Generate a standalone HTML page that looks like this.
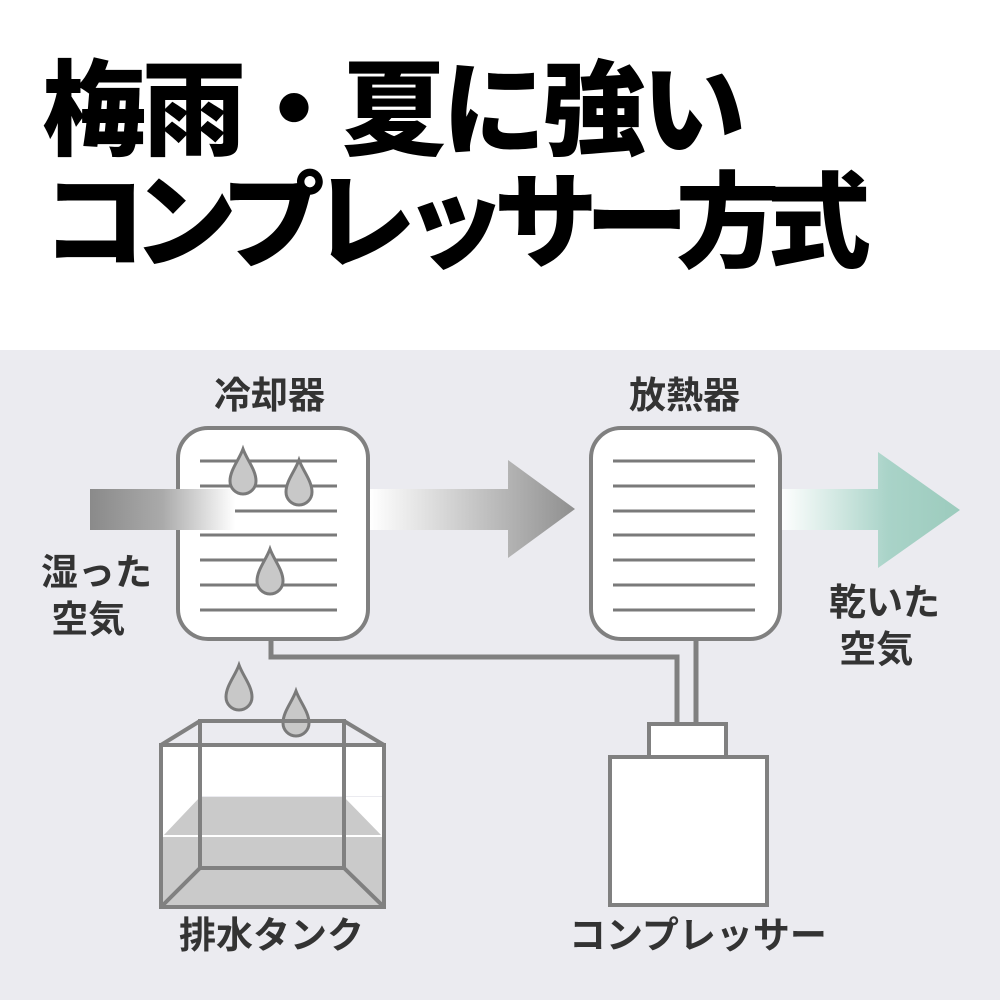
<!DOCTYPE html>
<html><head><meta charset="utf-8"><style>
body{margin:0;width:1000px;height:1000px;background:#fff;position:relative;overflow:hidden;font-family:"Liberation Sans","Noto Sans CJK JP",sans-serif}
.t{position:absolute;left:42px;font-weight:900;color:#000;font-size:104px;line-height:1;white-space:nowrap}
.l{position:absolute;font-size:37px;font-weight:700;color:#333;line-height:1.27;white-space:nowrap}
</style></head><body>
<div class="t" style="top:60px;letter-spacing:-4px">梅雨・夏に強い</div>
<div class="t" style="top:172px;letter-spacing:-13px">コンプレッサー方式</div>
<div style="position:absolute;left:0;top:350px;width:1000px;height:650px;background:#ebebf0"></div>
<svg style="position:absolute;left:0;top:0" width="1000" height="1000">
<defs>
<linearGradient id="g1" x1="0" x2="1"><stop offset="0" stop-color="#8a8a8a"/><stop offset="0.5" stop-color="#aaa"/><stop offset="1" stop-color="#fff"/></linearGradient>
<linearGradient id="g2" x1="0" x2="1"><stop offset="0" stop-color="#fff"/><stop offset="1" stop-color="#8f8f8f"/></linearGradient>
<linearGradient id="g3" x1="0" x2="1"><stop offset="0" stop-color="#fff"/><stop offset="0.6" stop-color="#a9d3c8"/><stop offset="1" stop-color="#9ccbbd"/></linearGradient>
<path id="d" d="M0,-27 C4,-16 13,-6 13,5 A13,13 0 0 1 -13,5 C-13,-6 -4,-16 0,-27Z" fill="#c8c8c8" stroke="#7a7a7a" stroke-width="3"/>
</defs>
<polygon points="370,489 508,489 508,460 575,509 508,558 508,530 370,530" fill="url(#g2)"/>
<polygon points="780,489 878,489 878,452 960,510 878,568 878,530 780,530" fill="url(#g3)"/>
<path d="M271,640 V657 H677 V724 M696,640 V724" fill="none" stroke="#808080" stroke-width="5"/>
<rect x="178" y="428" width="190" height="211" rx="30" fill="#fff" stroke="#808080" stroke-width="4"/>
<rect x="591" y="428" width="189" height="211" rx="30" fill="#fff" stroke="#808080" stroke-width="4"/>
<g stroke="#7a7a7a" stroke-width="3">
<path d="M200,461H337M200,486H337M200,511H337M200,535H337M200,560H337M200,585H337M200,610H337"/>
<path d="M613,461H755M613,486H755M613,511H755M613,535H755M613,560H755M613,585H755M613,610H755"/>
</g>
<rect x="90" y="489" width="145" height="41" fill="url(#g1)"/>
<use href="#d" x="243" y="476"/><use href="#d" x="299" y="487"/><use href="#d" x="270" y="576"/>
<use href="#d" x="239" y="692"/><use href="#d" x="296" y="718"/>
<polygon points="161,836 200,797 344,797 384,836 384,907 161,907" fill="#cacaca"/>
<rect x="163" y="746" width="219" height="50" fill="#fff"/>
<polygon points="163,796 200,796 200,797 163,836" fill="#fff"/><polygon points="344,797 382,797 382,836" fill="#fff"/>
<line x1="163" y1="836" x2="382" y2="836" stroke="#fff" stroke-width="2"/>
<g fill="none" stroke="#808080" stroke-width="4">
<rect x="161" y="745" width="223" height="162"/>
<path d="M200,868V721H344V868H200M161,745L200,721M384,745L344,721M161,907L200,868M384,907L344,868"/>
</g>
<rect x="649" y="724" width="77" height="33" fill="#fff" stroke="#808080" stroke-width="4"/>
<rect x="610" y="757" width="157" height="148" fill="#fff" stroke="#808080" stroke-width="4"/>
</svg>
<div class="l" style="left:214px;top:373px">冷却器</div>
<div class="l" style="left:629px;top:373px">放熱器</div>
<div class="l" style="left:41px;top:550px">湿った<br>&nbsp;空気</div>
<div class="l" style="left:829px;top:580px">乾いた<br>&nbsp;空気</div>
<div class="l" style="left:179px;top:913px">排水タンク</div>
<div class="l" style="left:569px;top:913px">コンプレッサー</div>
</body></html>
